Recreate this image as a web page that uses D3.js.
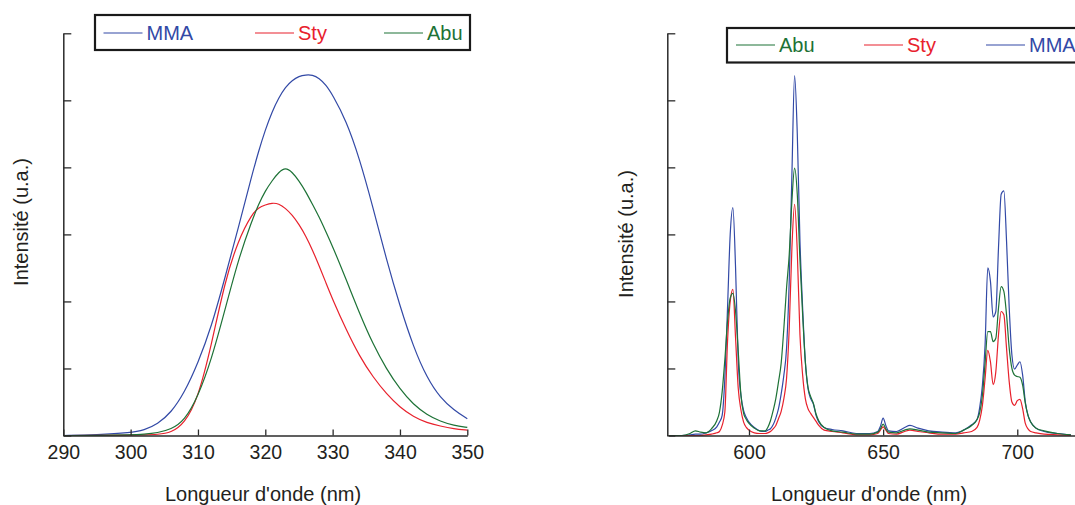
<!DOCTYPE html>
<html><head><meta charset="utf-8">
<script src="https://cdn.jsdelivr.net/npm/d3@7/dist/d3.min.js"></script>
<style>
body{margin:0;background:#fff;}
svg{display:block;font-family:"Liberation Sans",Arial,sans-serif;}
</style></head>
<body>
<svg id="c" width="1075" height="505"></svg>
<script>
// ---------- Left panel (excitation) ----------
const leftWavelengths = [290,295,300,302,304,306,308,310,312,314,316,318,319,320,321,322,323,324,325,326,327,328,329,330,332,334,336,338,340,342,344,346,348,350];
const leftMMA = [0,0.01,0.04,0.08,0.17,0.34,0.64,1.08,1.62,2.35,3.1,3.88,4.24,4.56,4.83,5.04,5.2,5.3,5.36,5.38,5.38,5.33,5.23,5.08,4.7,4.13,3.4,2.62,1.93,1.32,0.86,0.56,0.38,0.25];
const leftSty = [0,0,0.005,0.01,0.015,0.04,0.18,0.55,1.35,2.3,2.92,3.3,3.4,3.44,3.47,3.46,3.39,3.29,3.15,2.98,2.77,2.53,2.28,2.03,1.58,1.18,0.87,0.62,0.42,0.28,0.19,0.14,0.1,0.08];
const leftAbu = [0,0,0.01,0.02,0.04,0.09,0.22,0.58,1.13,1.87,2.63,3.2,3.45,3.65,3.8,3.93,4.0,3.93,3.8,3.64,3.45,3.26,3.04,2.82,2.33,1.82,1.36,0.99,0.69,0.46,0.31,0.21,0.15,0.12];
const leftXTicks = [290,300,310,320,330,340,350];
const leftLegend = ["MMA","Sty","Abu"];

// ---------- Right panel (emission) ----------
const rightWavelengths = [570,575,578,580,582,584,586,588,589,590,591,592,593,594,595,596,597,598,599,600,602,604,606,607,608,609,610,611,612,613,614,615,616,617,618,619,620,621,622,623,624,625,626,628,631,635,640,645,648,649,650,651,652,655,658,660,663,667,672,677,680,683,685,686,687,688,689,690,691,692,693,694,695,696,697,698,699,700,701,702,703,704,705,707,710,715,720];
const rightMMA = [0,0,0.01,0.02,0.02,0.04,0.07,0.13,0.2,0.3,0.85,1.9,3.0,3.4,2.5,1.1,0.6,0.37,0.27,0.2,0.12,0.07,0.06,0.08,0.1,0.16,0.26,0.4,0.62,0.9,1.3,2.3,3.9,5.37,4.5,2.9,1.9,1.1,0.7,0.55,0.47,0.3,0.2,0.12,0.09,0.07,0.03,0.03,0.06,0.14,0.26,0.15,0.07,0.06,0.12,0.15,0.11,0.07,0.05,0.04,0.08,0.16,0.24,0.42,0.75,1.35,2.5,2.3,1.77,1.85,2.8,3.6,3.65,2.9,1.9,1.2,0.99,1.05,1.1,0.9,0.5,0.3,0.2,0.11,0.06,0.03,0.01];
const rightSty = [0,0,0,0,0,0.01,0.02,0.04,0.06,0.15,0.35,1.4,2.0,2.18,1.45,0.7,0.38,0.2,0.12,0.08,0.04,0.03,0.03,0.04,0.06,0.1,0.15,0.25,0.36,0.55,0.85,1.6,2.8,3.45,2.75,1.5,0.9,0.55,0.4,0.33,0.27,0.21,0.15,0.08,0.06,0.04,0.01,0.01,0.03,0.08,0.13,0.08,0.03,0.02,0.06,0.08,0.06,0.04,0.02,0.02,0.04,0.06,0.12,0.23,0.45,0.85,1.27,1.1,0.76,0.95,1.5,1.85,1.8,1.3,0.8,0.5,0.45,0.52,0.54,0.4,0.18,0.1,0.06,0.04,0.02,0.01,0];
const rightAbu = [0,0,0.03,0.07,0.05,0.04,0.1,0.22,0.35,0.65,1.13,1.7,2.05,2.12,1.85,1.25,0.6,0.33,0.24,0.18,0.11,0.07,0.07,0.12,0.22,0.37,0.55,0.8,1.08,1.6,2.2,2.7,3.5,3.99,3.6,2.62,1.8,1.1,0.72,0.58,0.48,0.32,0.22,0.12,0.07,0.05,0.02,0.02,0.05,0.1,0.17,0.1,0.05,0.04,0.08,0.1,0.08,0.05,0.04,0.03,0.08,0.15,0.24,0.34,0.6,1.08,1.55,1.55,1.4,1.45,1.9,2.22,2.15,1.8,1.3,1.0,0.9,0.88,0.87,0.75,0.48,0.3,0.2,0.11,0.07,0.03,0.01];
const rightXTicks = [600,650,700];
const rightLegend = ["Abu","Sty","MMA"];

const yTicks = [0,1,2,3,4,5,6];
const colors = {MMA:"#3249a6", Sty:"#e8212c", Abu:"#1d7236"};
const axisColor = "#2b2b2b";

const svg = d3.select("#c");

function panel(opt){
  const g = svg.append("g");
  const x = d3.scaleLinear().domain(opt.xDomain).range(opt.xRange);
  const y = d3.scaleLinear().domain([0,6]).range([435.5,33.3]);
  const line = d3.line().x(d=>x(d[0])).y(d=>y(d[1])).curve(opt.curve);
  opt.series.forEach(s=>{
    g.append("path")
      .datum(opt.wl.map((w,i)=>[w,s.values[i]]))
      .attr("fill","none").attr("stroke",colors[s.name]).attr("stroke-width",1.2)
      .attr("stroke-linejoin","round")
      .attr("d",line);
  });
  const xa = g.append("g").attr("transform",`translate(0,${y(0)})`)
    .call(d3.axisBottom(x).tickValues(opt.xTicks).tickSizeInner(-6).tickSizeOuter(0).tickPadding(10).tickFormat(d3.format("d")));
  xa.select(".domain").attr("stroke",axisColor).attr("stroke-width",1.5);
  xa.selectAll(".tick line").attr("stroke",axisColor).attr("stroke-width",1.3);
  xa.selectAll(".tick text").attr("font-size",19.5).attr("fill","#231f20").attr("font-family","Liberation Sans, Arial, sans-serif");
  const ya = g.append("g").attr("transform",`translate(${opt.yAxisX},0)`)
    .call(d3.axisLeft(y).tickValues(yTicks).tickSizeInner(-8).tickSizeOuter(0).tickFormat(""));
  ya.select(".domain").attr("stroke",axisColor).attr("stroke-width",1.5);
  ya.selectAll(".tick line").attr("stroke",axisColor).attr("stroke-width",1.3);
  g.append("text").attr("x",opt.xTitleX).attr("y",501).attr("text-anchor","middle")
    .attr("font-size",20).attr("fill","#231f20").text("Longueur d'onde (nm)");
  g.append("text").attr("transform",`translate(${opt.yTitleX},${opt.yTitleY}) rotate(-90)`)
    .attr("text-anchor","middle").attr("dominant-baseline","central")
    .attr("font-size",20).attr("fill","#231f20").text("Intensité (u.a.)");
  const L = opt.legend;
  g.append("rect").attr("x",L.x).attr("y",L.y).attr("width",L.w).attr("height",L.h)
    .attr("fill","#fff").attr("stroke","#1a1a1a").attr("stroke-width",2.2);
  L.names.forEach((n,i)=>{
    const lx = L.lineX[i];
    g.append("line").attr("x1",lx).attr("x2",lx+39).attr("y1",L.cy).attr("y2",L.cy)
      .attr("stroke",colors[n]).attr("stroke-width",1.2);
    g.append("text").attr("x",lx+43).attr("y",L.cy).attr("dominant-baseline","central")
      .attr("font-size",20).attr("fill",colors[n]).text(n);
  });
}

panel({
  xDomain:[290,350], xRange:[63.3,467.3], yAxisX:63.3, wl:leftWavelengths, curve:d3.curveBasis,
  series:[{name:"MMA",values:leftMMA},{name:"Sty",values:leftSty},{name:"Abu",values:leftAbu}],
  xTicks:leftXTicks, xTitleX:263, yTitleX:21, yTitleY:222,
  legend:{x:95,y:15,w:375,h:35,cy:33,names:leftLegend,lineX:[103.5,255,384]}
});
panel({
  xDomain:[570,722], xRange:[668.5,1076.3], yAxisX:667.3, wl:rightWavelengths, curve:d3.curveMonotoneX,
  series:[{name:"MMA",values:rightMMA},{name:"Sty",values:rightSty},{name:"Abu",values:rightAbu}],
  xTicks:rightXTicks, xTitleX:869, yTitleX:626, yTitleY:234,
  legend:{x:727,y:28,w:400,h:34.5,cy:45,names:rightLegend,lineX:[736,864,986]}
});
</script>
</body></html>
